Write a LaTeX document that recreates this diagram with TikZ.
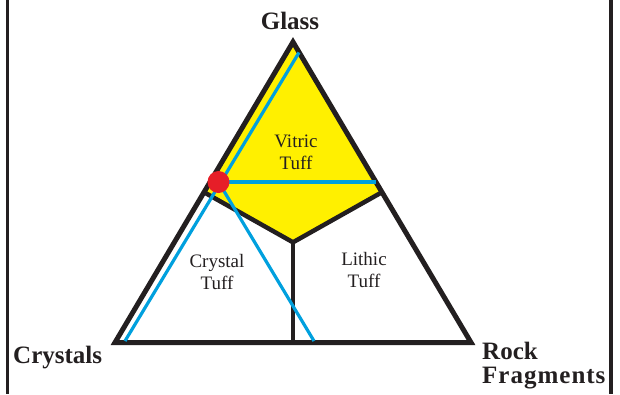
\documentclass[tikz,border=0pt]{standalone}
\usepackage{fontspec}
\setmainfont{Liberation Serif}
\usepackage{tikz}
\usepackage{xcolor}
\definecolor{inkdark}{RGB}{35,31,32}
\definecolor{vitric}{RGB}{255,240,0}
\definecolor{tieblue}{RGB}{0,160,222}
\definecolor{dotred}{RGB}{230,30,40}

\tikzset{
  corner/.style={inner sep=0pt,font=\fontsize{25}{24}\selectfont\bfseries,text=inkdark},
  field/.style={inner sep=0pt,align=center,font=\fontsize{19}{22}\selectfont,text=inkdark},
  tie/.style={tieblue,line width=3.2pt},
  rim/.style={inkdark,line width=5pt}
}

\begin{document}
\begin{tikzpicture}[x=1pt,y=-1pt,line join=miter]
  \useasboundingbox (0,0) rectangle (620,394);
  % side rules of the frame
  \draw[inkdark,line width=3pt] (7,0) -- (7,394);
  \draw[inkdark,line width=3.5pt] (611,0) -- (611,394);
  % apexes, edge midpoints and centroid of the ternary plot
  \coordinate (G) at (293,42);
  \coordinate (C) at (115,342.5);
  \coordinate (R) at (471,342.5);
  \coordinate (mGC) at (204,192.2);
  \coordinate (mGR) at (382,192.2);
  \coordinate (mCR) at (293,342.5);
  \coordinate (O) at (293,242.3);
  % vitric field
  \fill[vitric] (G) -- (mGC) -- (O) -- (mGR) -- cycle;
  \draw[inkdark,line width=4.5pt] (mGC) -- (O) -- (mGR);
  \draw[inkdark,line width=3.5pt] (O) -- (mCR);
  \draw[rim] (G) -- (C) -- (R) -- cycle;
  % sample and its tie lines
  \coordinate (S) at (218.5,182);
  \coordinate (sTop) at (299,52.5);
  \coordinate (sLeft) at (125,341);
  \coordinate (sRight) at (376,182);
  \coordinate (sBase) at (314,341);
  \draw[tie] (sLeft) -- (sTop);
  \draw[tie] (S) -- (sRight);
  \draw[tie] (S) -- (sBase);
  \fill[dotred] (S) circle (11pt);
  % labels
  \node[corner,anchor=base] (glass) at (290,29.5) {Glass};
  \node[corner,anchor=base west] (crystals) at (13,363) {Crystals};
  \node[corner,anchor=north west,align=left] (rockfrag) at (482,342) {Rock\\{\addfontfeature{LetterSpace=4}Fragments}};
  \node[field,anchor=north] (vitrictuff) at (296,135) {Vitric\\Tuff};
  \node[field,anchor=north] (crystaltuff) at (217,254) {Crystal\\Tuff};
  \node[field,anchor=north] (lithictuff) at (364,252) {Lithic\\Tuff};
\end{tikzpicture}
\end{document}
